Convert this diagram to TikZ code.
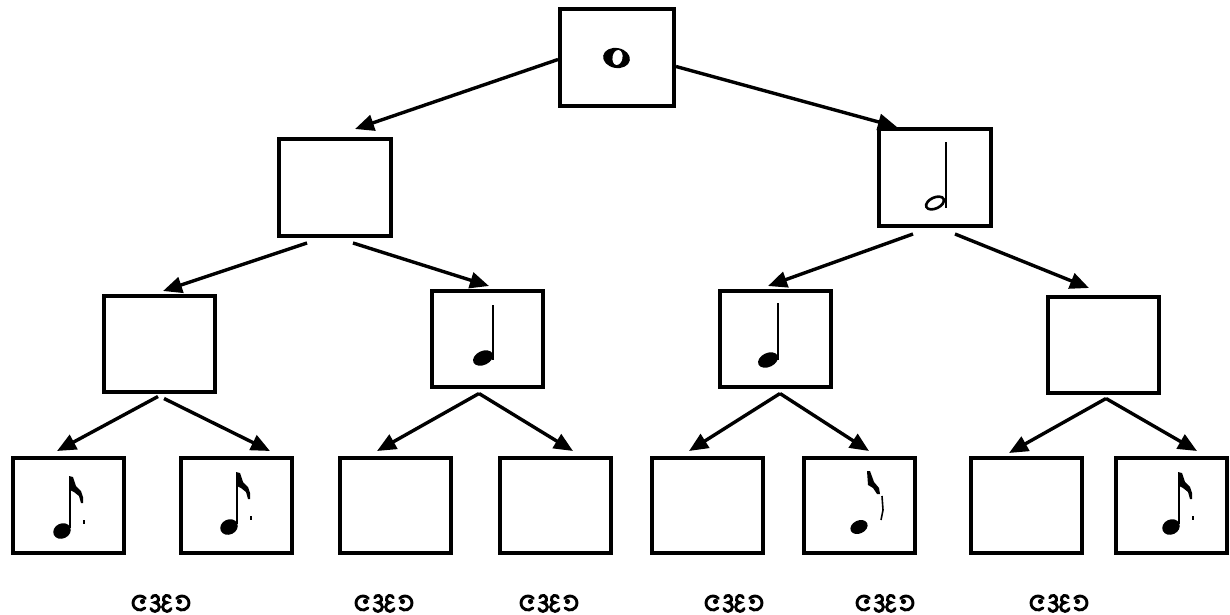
\documentclass[tikz,border=0pt]{standalone}
\usetikzlibrary{arrows.meta}
\begin{document}
\begin{tikzpicture}[x=1pt,y=-1pt,
  box/.style={draw,line width=4pt,inner sep=0pt,minimum width=111pt,minimum height=96pt},
  lowbox/.style={box,minimum height=95pt},
  conn/.style={line width=3.4pt,-{Triangle[length=19pt,width=16pt]}},
  stemline/.style={line width=2.4pt},
  orn/.pic={
    \draw[line width=2.9pt,line cap=round]
      (-21,0) ++(40:7pt) arc[start angle=40,end angle=315,radius=7pt]
      (-6,-4) ++(160:3.6pt) arc[start angle=160,end angle=-90,radius=3.6pt]
        arc[start angle=90,end angle=-160,radius=4.4pt]
      (6,-4) ++(20:3.6pt) arc[start angle=20,end angle=270,radius=3.6pt]
        arc[start angle=90,end angle=340,radius=4.4pt]
      (21,0) ++(140:7pt) arc[start angle=140,end angle=-135,radius=7pt];
    \fill (-18.5,-1.5) circle[radius=2.6pt] (18.5,-1.5) circle[radius=2.6pt];
  }]
\useasboundingbox (0,0) rectangle (1230,615);
\fill[white] (0,0) rectangle (1230,615);

% boxes
\node[box,minimum width=114pt,minimum height=97pt] (r) at (617,57.5) {};
\node[box,minimum width=112pt,minimum height=97pt] (a) at (335,187.5) {};
\node[box,minimum width=112pt,minimum height=97pt] (b) at (935,177.5) {};
\node[box] (a1) at (159,343.5) {};
\node[box] (a2) at (487,338.5) {};
\node[box] (b1) at (775,338.5) {};
\node[box] (b2) at (1103,344.5) {};
\node[lowbox] (c1) at (68.5,505.5) {};
\node[lowbox] (c2) at (236.5,505.5) {};
\node[lowbox] (c3) at (395.5,505.5) {};
\node[lowbox] (c4) at (555,505.5) {};
\node[lowbox] (c5) at (707,505.5) {};
\node[lowbox] (c6) at (859.5,505.5) {};
\node[lowbox] (c7) at (1026,505.5) {};
\node[lowbox] (c8) at (1171.5,505.5) {};

% connectors
\draw[conn] ([shift={(0,2)}]r.west) -- ([shift={(20,-8)}]a.north);
\draw[conn] ([shift={(0,9)}]r.east) -- ([shift={(-38,0)}]b.north);
\draw[conn] ([shift={(-28,5)}]a.south) -- ([shift={(4,-2.5)}]a1.north);
\draw[conn] ([shift={(18,5)}]a.south) -- ([shift={(2,-2.5)}]a2.north);
\draw[conn] ([shift={(-22,6)}]b.south) -- ([shift={(-7,-2.5)}]b1.north);
\draw[conn] ([shift={(20,6)}]b.south) -- ([shift={(-14,-6.5)}]b2.north);
\draw[conn] ([shift={(-1,3)}]a1.south) -- ([shift={(-11.5,-5)}]c1.north);
\draw[conn] ([shift={(5,5)}]a1.south) -- ([shift={(33.5,-5)}]c2.north);
\draw[conn] ([shift={(-8,5)}]a2.south) -- ([shift={(-18.5,-5)}]c3.north);
\draw[conn] ([shift={(-8,5)}]a2.south) -- ([shift={(18,-5)}]c4.north);
\draw[conn] ([shift={(5,5)}]b1.south) -- ([shift={(-18,-5)}]c5.north);
\draw[conn] ([shift={(5,5)}]b1.south) -- ([shift={(9.5,-5)}]c6.north);
\draw[conn] ([shift={(3,4)}]b2.south) -- ([shift={(-17,-3)}]c7.north);
\draw[conn] ([shift={(3,4)}]b2.south) -- ([shift={(25.5,-5)}]c8.north);

% whole note (root)
\fill[rotate around={-10:(616.5,58)}] (616.5,58) ellipse[x radius=13.5pt,y radius=10pt];
\fill[white,rotate around={-10:(617.5,57.5)}] (617.5,57.5) ellipse[x radius=5pt,y radius=7.5pt];

% half note (b)
\draw[stemline] (946,142) -- (946,208);
\draw[line width=2.6pt,fill=white,rotate around={25:(935,203)}] (935,203) ellipse[x radius=9.5pt,y radius=5.5pt];

% quarter notes
\draw[stemline] (493,305) -- (493,360);
\fill[rotate around={25:(483,358)}] (483,358) ellipse[x radius=10.5pt,y radius=7pt];
\draw[stemline] (778,303) -- (778,360);
\fill[rotate around={25:(768,360)}] (768,360) ellipse[x radius=10.5pt,y radius=7pt];

% eighth notes
\foreach \dx/\dy in {0/0, 167/-4, 1109/-4}{
  \begin{scope}[shift={(\dx,\dy)}]
    \draw[stemline] (70,477) -- (70,528);
    \fill[rotate around={25:(62,531)}] (62,531) ellipse[x radius=9pt,y radius=7.5pt];
    \fill (69,476) -- (73,477) -- (76,486) -- (81,491) -- (83,497) -- (83,503) -- (81,503)
      -- (79,496) -- (74,492) -- (70,490) -- cycle;
    \fill (82.5,520) rectangle (85,524);
  \end{scope}
}
% eighth note without stem (c6)
\fill[rotate around={25:(859,527)}] (859,527) ellipse[x radius=9pt,y radius=6.5pt];
\fill (867,471) -- (870,471) -- (874,482) -- (879,488) -- (880,494) -- (877,494) -- (873,488) -- (868,485) -- cycle;
\draw[line width=1.6pt] (882,496) -- (883,510) -- (881,520);

% ornaments
\foreach \ox in {161,384,549,734,885,1059}{
  \pic at (\ox,603) {orn};
}
\end{tikzpicture}
\end{document}
